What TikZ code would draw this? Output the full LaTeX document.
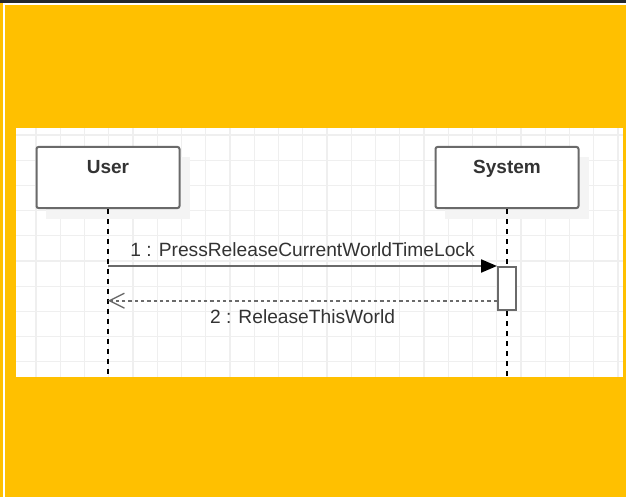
\documentclass[tikz,border=0pt]{standalone}
\usepackage{fontspec}
\setmainfont{Liberation Sans}
\usetikzlibrary{arrows.meta}
\definecolor{bgyellow}{HTML}{FFC000}
\definecolor{topbar}{HTML}{24292E}
\definecolor{gridgray}{HTML}{EFEFEF}
\definecolor{boxgray}{HTML}{6A6A6A}
\definecolor{shadowgray}{HTML}{F4F4F4}
\definecolor{textgray}{HTML}{333333}
\tikzset{
  lifebox/.style={draw=boxgray, line width=2pt, fill=white, rounded corners=2pt,
    minimum width=143pt, minimum height=61pt, inner sep=0pt},
  actbox/.style={draw=boxgray, line width=2pt, fill=white,
    minimum width=18pt, minimum height=43pt, inner sep=0pt},
  headtext/.style={font=\fontsize{19}{22}\selectfont\bfseries, text=textgray, inner sep=0pt},
  msgtext/.style={font=\fontsize{19.2}{22}\selectfont, text=textgray, inner sep=0pt},
  lifeline/.style={black, line width=1.3pt, dash pattern=on 4.5pt off 5.5pt},
  gridline/.style={gridgray, line width=1.3pt}
}
\begin{document}
\begin{tikzpicture}[x=1pt, y=-1pt]
  \useasboundingbox (0,0) rectangle (626,497);
  % window and page
  \fill[bgyellow] (0,0) rectangle (626,497);
  \fill[topbar] (0,0) rectangle (626,3.3);
  \fill[white] (3,3.3) rectangle (626,5.3);
  \fill[white] (3,3.3) rectangle (5,497);
  \fill[white] (16,128) rectangle (623,377);
  \foreach \i in {0,...,24} {\draw[gridline] ({36+24.25*\i},128) -- ({36+24.25*\i},377);}
  \foreach \j in {0,...,9} {\draw[gridline] (16,{135+25.2*\j}) -- (623,{135+25.2*\j});}
  % shadows
  \fill[shadowgray] (46,157) rectangle (190,219);
  \fill[shadowgray] (445,157) rectangle (589,219);
  % lifelines
  \node[lifebox] (user) at (108,177.5) {};
  \node[lifebox] (system) at (507,177.5) {};
  \node[headtext, anchor=base] (usertxt) at (108,173.3) {User};
  \node[headtext, anchor=base] (systemtxt) at (507,173.3) {System};
  \node[actbox] (act) at (507,288.5) {};
  \draw[lifeline] (user.south) -- (user.south |- 0,377);
  \draw[lifeline] (system.south) -- (act.north);
  \draw[lifeline] (act.south) -- (system.south |- 0,377);
  % messages
  \draw[boxgray, line width=2pt, -{Triangle[length=16pt, width=13pt, color=black]}]
    (user.south |- act.north west) -- (act.north west)
    node[msgtext, pos=0.5, anchor=base, yshift=10pt] (m1) {1 : PressReleaseCurrentWorldTimeLock};
  \coordinate (ret) at (497,300.7);
  \draw[boxgray, line width=1.8pt, dash pattern=on 3.3pt off 3pt,
    -{Straight Barb[length=15pt, width=15pt, line width=1.3pt]}]
    (ret) -- (user.south |- ret)
    node[msgtext, pos=0.5, anchor=base, yshift=-22.3pt] (m2) {2 : ReleaseThisWorld};
\end{tikzpicture}
\end{document}
